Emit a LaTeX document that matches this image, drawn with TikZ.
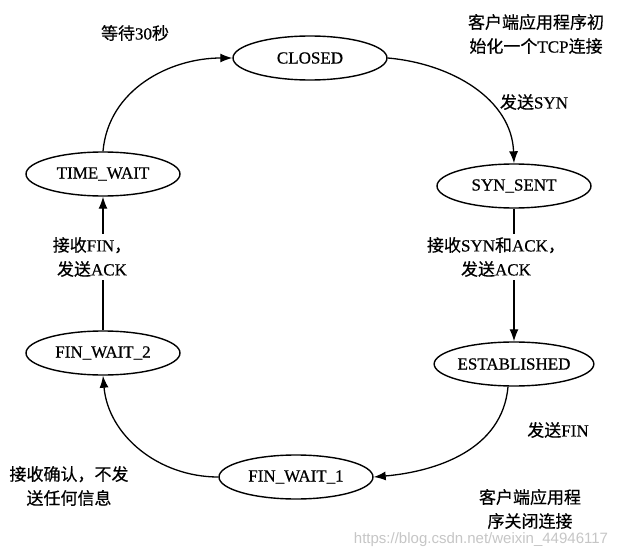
\documentclass[tikz,border=0pt]{standalone}
\usepackage{fontspec}
\setmainfont{Liberation Serif}[FakeBold=0.6]
\newfontfamily\cjk{Noto Sans CJK SC}[FakeBold=0.5]
\newfontfamily\wmfont{Liberation Sans}
\newcommand\zh[1]{{\cjk #1}}
\usetikzlibrary{shapes.geometric,arrows.meta}
\begin{document}
\begin{tikzpicture}[x=1pt,y=-1pt,
  state/.style={ellipse,draw,line width=1.4pt,fill=white,minimum width=154pt,minimum height=44pt,inner sep=0pt,font=\fontsize{17}{20}\selectfont},
  lbl/.style={align=center,inner sep=3pt,font=\fontsize{17}{24}\selectfont},
  arr/.style={line width=1.3pt,-{Latex[length=12pt,width=9pt]}},
  ln/.style={line width=1.3pt}]
\useasboundingbox (0,0) rectangle (625,554);
\fill[white] (0,0) rectangle (625,554);

% states
\node[state] (closed) at (310,58) {CLOSED};
\node[state] (tw) at (103,174) {TIME\_WAIT};
\node[state] (syn) at (514,186) {SYN\_SENT};
\node[state] (est) at (514,364) {ESTABLISHED};
\node[state] (fw2) at (103,353) {FIN\_WAIT\_2};
\node[state] (fw1) at (296,477) {FIN\_WAIT\_1};

% labels
\node[lbl] (l30) at (135,33) {\zh{等待}30\zh{秒}};
\node[lbl] (linit) at (536,34) {\zh{客户端应用程序初}\\\zh{始化一个}TCP\zh{连接}};
\node[lbl] (lsyn) at (534,102) {\zh{发送}SYN};
\node[lbl] (lfin) at (92,257) {\zh{接收}FIN\zh{，}\\\zh{发送}ACK};
\node[lbl] (lsynack) at (496,257) {\zh{接收}SYN\zh{和}ACK\zh{，}\\\zh{发送}ACK};
\node[lbl] (lsfin) at (558,430) {\zh{发送}FIN};
\node[lbl] (lack) at (69,486) {\zh{接收确认，不发}\\\zh{送任何信息}};
\node[lbl] (lclose) at (530,509) {\zh{客户端应用程}\\\zh{序关闭连接}};
\node[text=gray!45,font=\wmfont\fontsize{15}{18}\selectfont] (wm) at (481,540) {https://blog.csdn.net/weixin\_44946117};

% transitions
\draw[arr] (tw.north) to[out=85,in=180] (closed.west);
\draw[arr] (closed.east) to[out=-5,in=92] (syn.north);
\draw[ln] (syn.south) -- (syn.south |- lsynack.north);
\draw[arr] (est.north |- lsynack.south) -- (est.north);
\draw[arr] ([xshift=-6pt]est.south) to[out=-95,in=5] (fw1.east);
\draw[arr] (fw1.west) to[out=180,in=-85] (fw2.south);
\draw[ln] (fw2.north) -- (fw2.north |- lfin.south);
\draw[arr] (tw.south |- lfin.north) -- (tw.south);
\end{tikzpicture}
\end{document}
